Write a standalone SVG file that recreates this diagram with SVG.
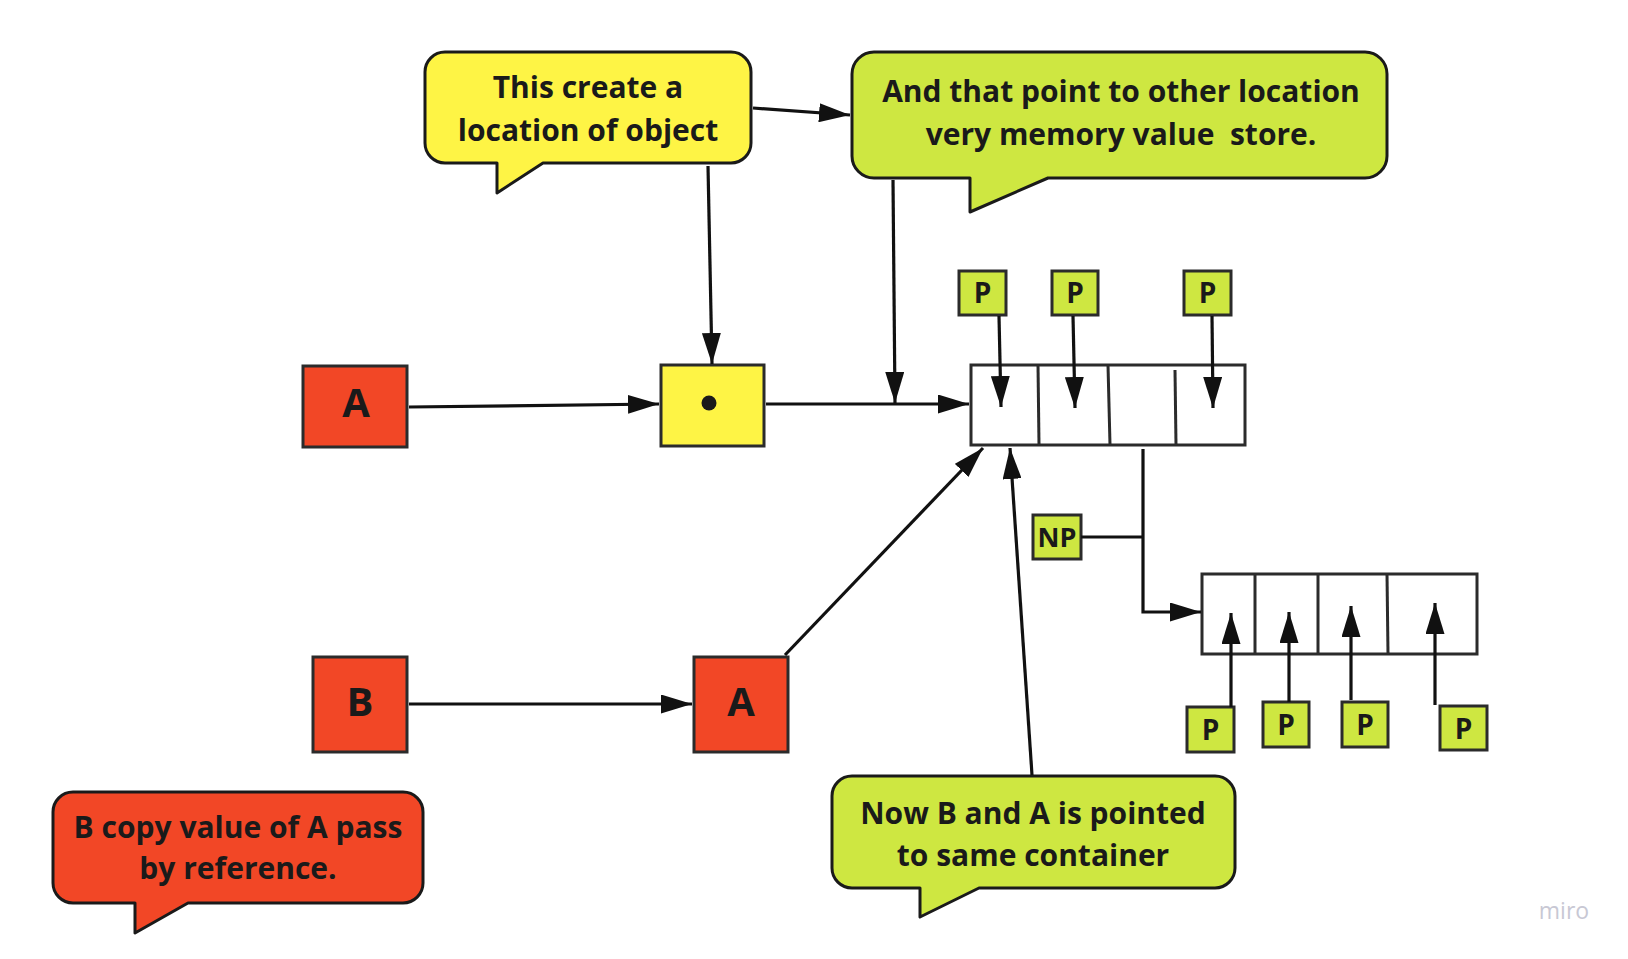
<svg xmlns="http://www.w3.org/2000/svg" width="1628" height="959" viewBox="0 0 1628 959">
<style>
.bub{stroke:#1a1a1a;stroke-width:3;stroke-linejoin:round}
.box{stroke:#2b2b2b;stroke-width:3}
.cell{fill:#ffffff;stroke:#2b2b2b;stroke-width:3}
.dv{stroke:#2b2b2b;stroke-width:3;fill:none}
.t{font-family:"Open Sans","Liberation Sans",sans-serif;font-weight:bold;fill:#1a1a1a;text-anchor:middle}
.bt{font-size:30px}
.big{font-size:40px}
.p{font-size:28px}
.c{fill:none;stroke:#111;stroke-width:3.2}
.red{fill:#F24726}
.yel{fill:#FEF445}
.grn{fill:#CEE741}
</style>
<defs>
<marker id="ah" markerUnits="userSpaceOnUse" markerWidth="32" markerHeight="19" refX="31" refY="9.5" orient="auto" viewBox="0 0 32 19">
<path d="M0,0 L31,9.5 L0,19 Z" fill="#111"/>
</marker>
</defs>
<rect width="1628" height="959" fill="#ffffff"/>

<g id="bubble-create">
<path class="bub yel" d="M445,52 H731 A20 20 0 0 1 751,72 V143 A20 20 0 0 1 731,163 H543 L497,193 V163 H445 A20 20 0 0 1 425,143 V72 A20 20 0 0 1 445,52 Z"/>
<text class="t bt" x="588" y="98">This create a</text>
<text class="t bt" x="588" y="141">location of object</text>
</g>

<g id="bubble-point">
<path class="bub grn" d="M874,52 H1365 A22 22 0 0 1 1387,74 V156 A22 22 0 0 1 1365,178 H1048 L970,212 V178 H874 A22 22 0 0 1 852,156 V74 A22 22 0 0 1 874,52 Z"/>
<text class="t bt" x="1121" y="102">And that point to other location</text>
<text class="t bt" x="1121" y="145" xml:space="preserve">very memory value  store.</text>
</g>

<g id="bubble-copy">
<path class="bub red" d="M73,792 H403 A20 20 0 0 1 423,812 V883 A20 20 0 0 1 403,903 H188 L135,933 V903 H73 A20 20 0 0 1 53,883 V812 A20 20 0 0 1 73,792 Z"/>
<text class="t bt" x="238" y="838">B copy value of A pass</text>
<text class="t bt" x="238" y="879">by reference.</text>
</g>

<g id="bubble-same">
<path class="bub grn" d="M852,776 H1215 A20 20 0 0 1 1235,796 V868 A20 20 0 0 1 1215,888 H979 L920,917 V888 H852 A20 20 0 0 1 832,868 V796 A20 20 0 0 1 852,776 Z"/>
<text class="t bt" x="1033" y="824">Now B and A is pointed</text>
<text class="t bt" x="1033" y="866">to same container</text>
</g>

<g id="node-A1">
<rect class="box red" x="303" y="366" width="104" height="81"/>
<text class="t big" x="356" y="417">A</text>
</g>

<g id="node-ref">
<rect class="box yel" x="661" y="365" width="103" height="81"/>
<circle cx="709" cy="403" r="7.5" fill="#1a1a1a"/>
</g>

<g id="node-B">
<rect class="box red" x="313" y="657" width="94" height="95"/>
<text class="t big" x="360" y="716">B</text>
</g>

<g id="node-A2">
<rect class="box red" x="694" y="657" width="94" height="95"/>
<text class="t big" x="741" y="716">A</text>
</g>

<g id="container-1">
<rect class="cell" x="971" y="365" width="274" height="80"/>
<line class="dv" x1="1038" y1="365" x2="1039" y2="445"/>
<line class="dv" x1="1108" y1="365" x2="1110" y2="445"/>
<line class="dv" x1="1175" y1="370" x2="1176" y2="445"/>
</g>

<g id="container-2">
<rect class="cell" x="1202" y="574" width="275" height="80"/>
<line class="dv" x1="1255" y1="574" x2="1255" y2="654"/>
<line class="dv" x1="1318" y1="574" x2="1318" y2="654"/>
<line class="dv" x1="1387" y1="574" x2="1388" y2="654"/>
</g>

<g id="p-top-1"><rect class="box grn" x="959" y="271" width="47" height="44"/><text class="t p" x="982.5" y="303">P</text></g>
<g id="p-top-2"><rect class="box grn" x="1052" y="271" width="46" height="44"/><text class="t p" x="1075" y="303">P</text></g>
<g id="p-top-3"><rect class="box grn" x="1184" y="271" width="47" height="44"/><text class="t p" x="1207.5" y="303">P</text></g>

<g id="np"><rect class="box grn" x="1033" y="515" width="48" height="44"/><text class="t" style="font-size:27px" x="1057" y="547">NP</text></g>

<g id="p-bot-1"><rect class="box grn" x="1187" y="707" width="47" height="45"/><text class="t p" x="1210.5" y="740">P</text></g>
<g id="p-bot-2"><rect class="box grn" x="1263" y="702" width="46" height="45"/><text class="t p" x="1286" y="735">P</text></g>
<g id="p-bot-3"><rect class="box grn" x="1342" y="702" width="46" height="45"/><text class="t p" x="1365" y="735">P</text></g>
<g id="p-bot-4"><rect class="box grn" x="1440" y="706" width="47" height="44"/><text class="t p" x="1463.5" y="739">P</text></g>

<g id="connectors">
<line class="c" x1="753" y1="108" x2="850" y2="115" marker-end="url(#ah)"/>
<line class="c" x1="708" y1="166" x2="712" y2="364" marker-end="url(#ah)"/>
<line class="c" x1="893" y1="180" x2="895" y2="403" marker-end="url(#ah)"/>
<line class="c" x1="409" y1="407" x2="659" y2="404" marker-end="url(#ah)"/>
<line class="c" x1="766" y1="404" x2="969" y2="404" marker-end="url(#ah)"/>
<line class="c" x1="999" y1="316" x2="1001" y2="407" marker-end="url(#ah)"/>
<line class="c" x1="1073" y1="316" x2="1075" y2="408" marker-end="url(#ah)"/>
<line class="c" x1="1212" y1="316" x2="1213" y2="408" marker-end="url(#ah)"/>
<line class="c" x1="409" y1="704" x2="692" y2="704" marker-end="url(#ah)"/>
<line class="c" x1="785" y1="655" x2="983" y2="448" marker-end="url(#ah)"/>
<line class="c" x1="1032" y1="775" x2="1010" y2="448" marker-end="url(#ah)"/>
<line class="c" x1="1081" y1="537" x2="1143" y2="537"/>
<polyline class="c" points="1143,449 1143,612 1201,612" marker-end="url(#ah)"/>
<line class="c" x1="1231" y1="707" x2="1231" y2="613" marker-end="url(#ah)"/>
<line class="c" x1="1289" y1="702" x2="1289" y2="612" marker-end="url(#ah)"/>
<line class="c" x1="1351" y1="700" x2="1351" y2="606" marker-end="url(#ah)"/>
<line class="c" x1="1435" y1="705" x2="1435" y2="603" marker-end="url(#ah)"/>
</g>

<text x="1564" y="919" style="font-family:'Open Sans','Liberation Sans',sans-serif;font-size:23px;fill:#c8c8d4;text-anchor:middle">miro</text>
</svg>
